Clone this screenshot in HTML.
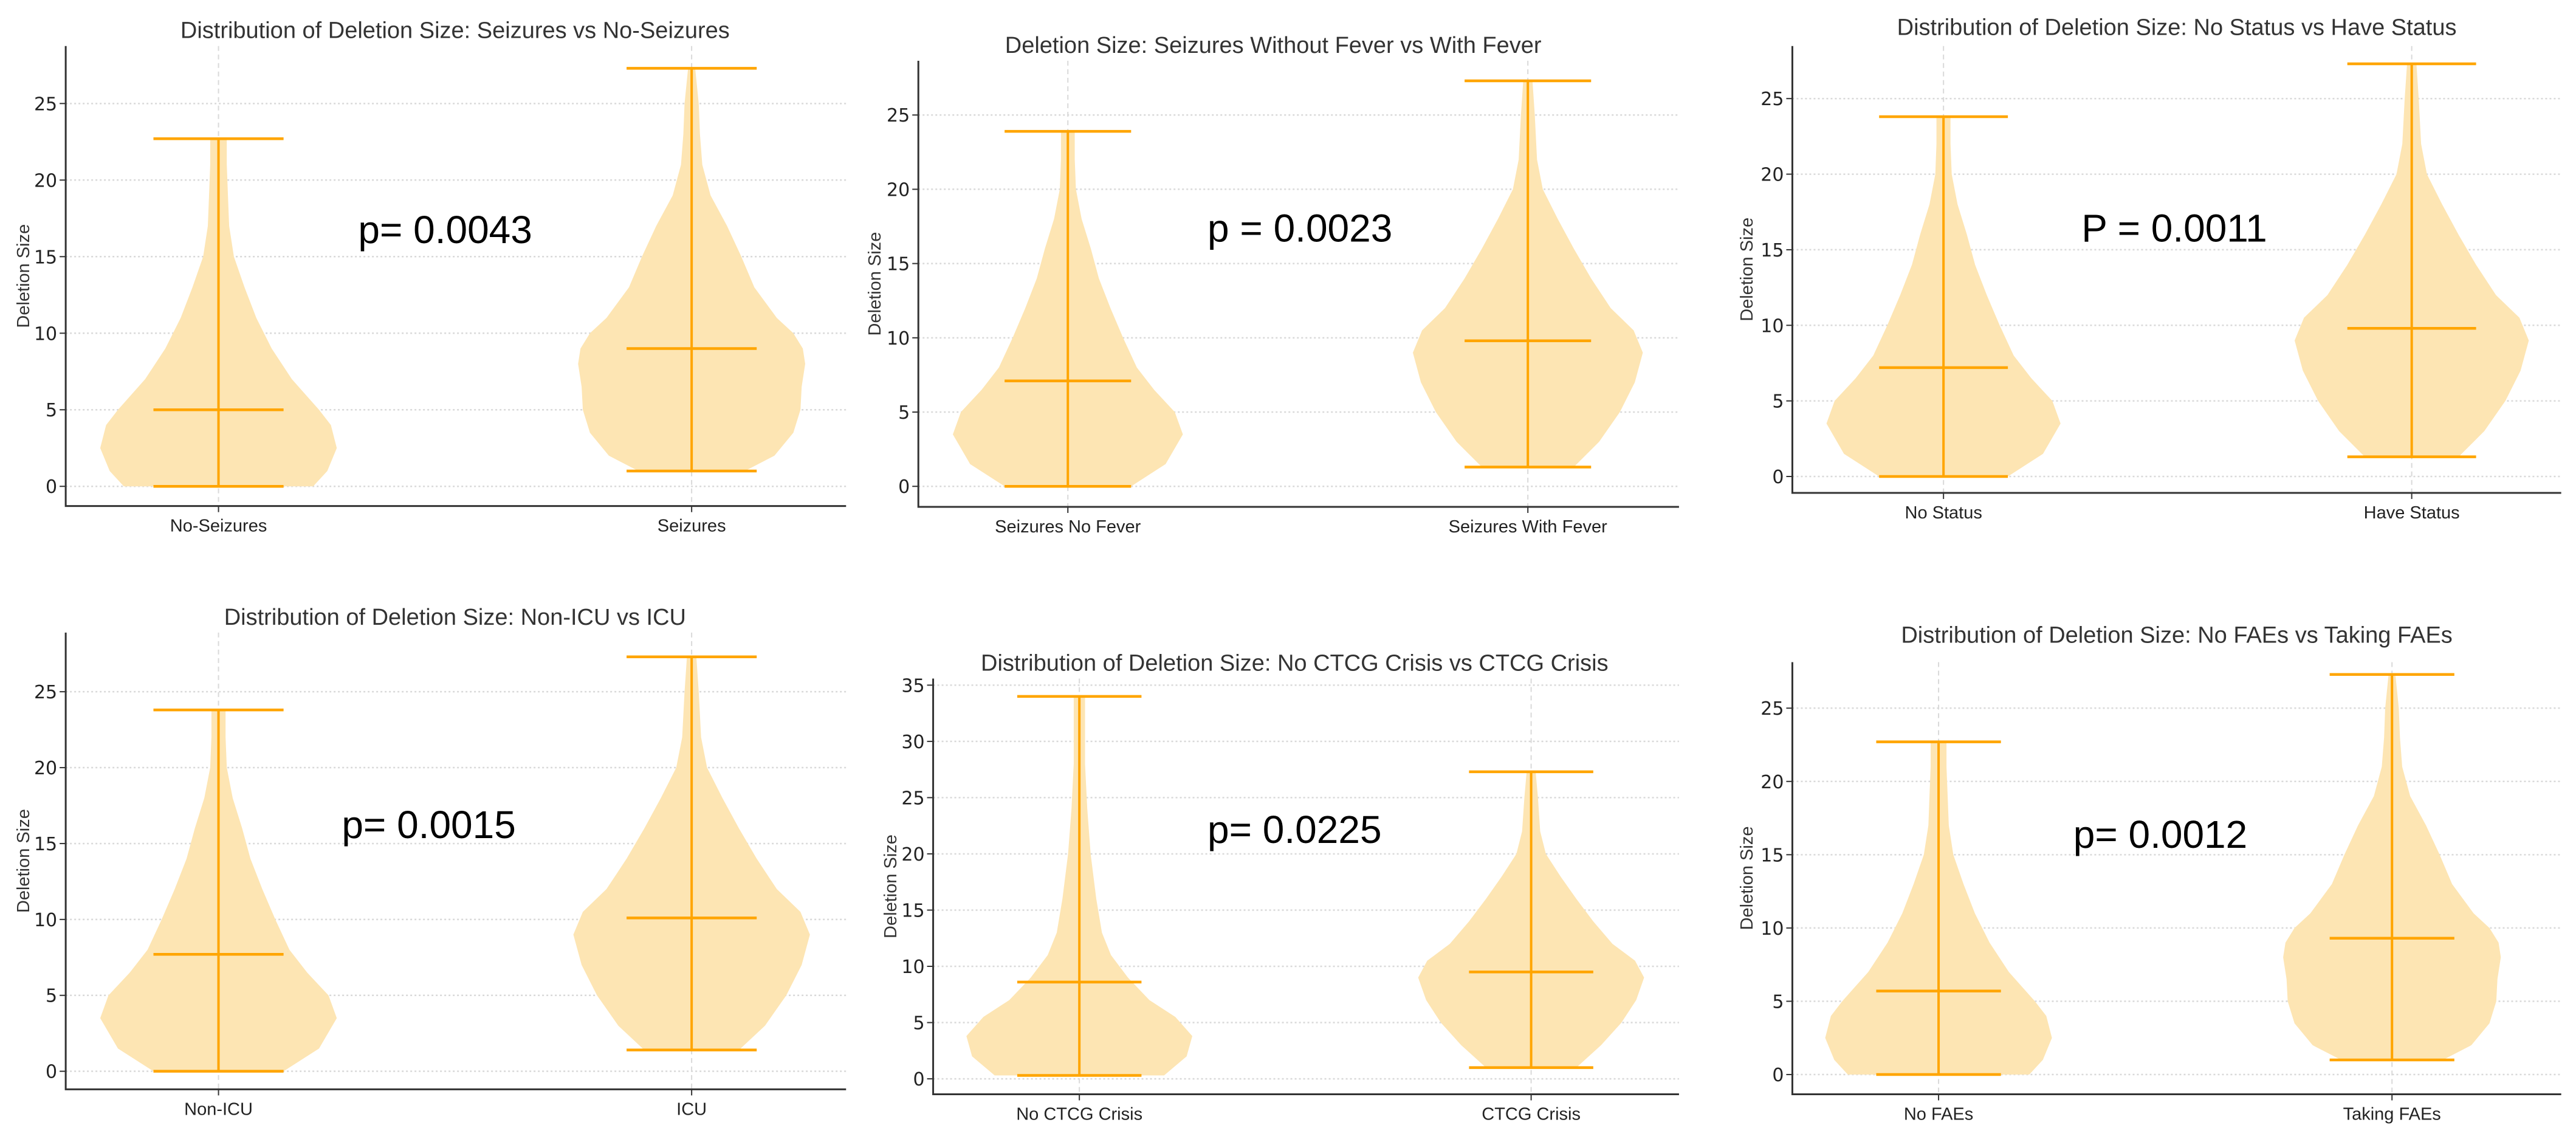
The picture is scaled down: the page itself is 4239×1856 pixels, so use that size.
<!DOCTYPE html>
<html><head><meta charset="utf-8">
<style>
html,body{margin:0;padding:0;background:#fff;}
svg{display:block;}
text{font-family:"Liberation Sans Narrow","Liberation Sans",sans-serif;}
text.ytick{font-family:"DejaVu Sans","Liberation Sans",sans-serif;}
</style></head>
<body>
<svg id="chart" width="4239" height="1856" viewBox="0 0 4239 1856" xmlns="http://www.w3.org/2000/svg"></svg>
<script>
// ---- data ----
const titles = [
  "Distribution of Deletion Size: Seizures vs No-Seizures",
  "Deletion Size: Seizures Without Fever vs With Fever",
  "Distribution of Deletion Size: No Status vs Have Status",
  "Distribution of Deletion Size: Non-ICU vs ICU",
  "Distribution of Deletion Size: No CTCG Crisis vs CTCG Crisis",
  "Distribution of Deletion Size: No FAEs vs Taking FAEs"
];
const categories = [
  ["No-Seizures","Seizures"],
  ["Seizures No Fever","Seizures With Fever"],
  ["No Status","Have Status"],
  ["Non-ICU","ICU"],
  ["No CTCG Crisis","CTCG Crisis"],
  ["No FAEs","Taking FAEs"]
];
const pValues = ["p= 0.0043","p = 0.0023","P = 0.0011","p= 0.0015","p= 0.0225","p= 0.0012"];
const yTicks = [
  [0,5,10,15,20,25],[0,5,10,15,20,25],[0,5,10,15,20,25],
  [0,5,10,15,20,25],[0,5,10,15,20,25,30,35],[0,5,10,15,20,25]
];
const minValues = [[0,1],[0,1.3],[0,1.3],[0,1.4],[0.3,1],[0,1]];
const maxValues = [[22.7,27.3],[23.9,27.3],[23.8,27.3],[23.8,27.3],[34,27.3],[22.7,27.3]];
const medianValues = [[5,9],[7.1,9.8],[7.2,9.8],[7.7,10.1],[8.6,9.5],[5.7,9.3]];
// density profiles: [value, relative half-width]
const lowProfile = [[0,0.8],[1,0.92],[2.5,1.0],[4,0.95],[5,0.85],[7,0.62],[9,0.45],[11,0.32],[13,0.22],[15,0.13],[17,0.09],[19,0.08],[21,0.07],[22.7,0.07]];
const lowProfileB = [[0,0.55],[1.5,0.85],[3.5,1.0],[5,0.93],[6.5,0.75],[8,0.6],[10,0.48],[12,0.37],[14,0.27],[16,0.2],[18,0.12],[20,0.07],[22,0.06],[23.9,0.06]];
const lowProfileCTCG = [[0.3,0.75],[2,0.95],[3.8,1.0],[5.5,0.85],[7,0.62],[9,0.43],[11,0.28],[13,0.2],[16,0.15],[20,0.1],[24,0.07],[28,0.05],[31,0.05],[34,0.05]];
const highProfile = [[1,0.45],[2,0.7],[3.5,0.86],[5,0.92],[6.5,0.93],[8,0.96],[9,0.94],[10,0.86],[11,0.72],[13,0.53],[15,0.42],[17,0.3],[19,0.16],[21,0.09],[23,0.07],[25,0.06],[27.3,0.03]];
const highProfileB = [[1.3,0.4],[3,0.62],[5,0.8],[7,0.93],[9,1.0],[10.5,0.92],[12,0.72],[14,0.55],[16,0.4],[18,0.26],[20,0.13],[22,0.08],[25,0.06],[27.3,0.04]];
const profiles = [
  [lowProfile, highProfile],
  [lowProfileB, highProfileB],
  [lowProfileB, highProfileB],
  [lowProfileB, highProfileB],
  [lowProfileCTCG, highProfileB],
  [lowProfile, highProfile]
];

// ---- layout (thumbnail units * S, except yl in real px) ----
const S = 4239/1568;
const layouts = [
  {l:40,r:515,b:308,t:28,y0:296,yk:25,yky:63,c:[133,421],ty:18,tc:277,px:218,py:148,yl:38},
  {l:559,r:1022,b:308.5,t:37,y0:296,yk:25,yky:70,c:[650,930],ty:27,tc:775,px:735,py:147,yl:1439},
  {l:1091,r:1559,b:300,t:28,y0:290,yk:25,yky:60,c:[1183,1468],ty:16,tc:1325,px:1267,py:147,yl:2874},
  {l:40,r:515,b:663,t:385,y0:652,yk:25,yky:421,c:[133,421],ty:375,tc:277,px:208,py:510,yl:38},
  {l:568,r:1022,b:666,t:413,y0:656.6,yk:35,yky:417,c:[657,932],ty:403,tc:788,px:735,py:513,yl:1465},
  {l:1091,r:1559,b:666,t:403,y0:654,yk:25,yky:431,c:[1180,1456],ty:386,tc:1325,px:1262,py:516,yl:2874}
];
const NS = "http://www.w3.org/2000/svg";
const svg = document.getElementById('chart');
function mk(tag, attrs, parent){
  const e = document.createElementNS(NS, tag);
  for (const k in attrs) e.setAttribute(k, attrs[k]);
  (parent||svg).appendChild(e);
  return e;
}
const ORANGE = "#FFA500";

layouts.forEach((L, i) => {
  const g = mk('g', {});
  
  
  const left=L.l*S, right=L.r*S, bottom=L.b*S, top=L.t*S;
  const pxPerUnit = (L.y0 - L.yky)*S / L.yk;
  const yScale = v => L.y0*S - v*pxPerUnit;
  const xScale = k => L.c[k]*S;
  const halfMax = (L.c[1]-L.c[0])*S*0.25;

  // grid
  yTicks[i].forEach(t => {
    const gl = mk('line', {x1:left, x2:right, y1:yScale(t), y2:yScale(t), stroke:'#d9d9d9', 'stroke-width':2.5, 'stroke-dasharray':'3 4'}, g);
    
    
    const tk = mk('line', {x1:left-10, x2:left, y1:yScale(t), y2:yScale(t), stroke:'#333', 'stroke-width':2}, g);
    
    
    const tl = mk('text', {x:left-14, y:yScale(t)+11, 'text-anchor':'end', 'font-size':30, fill:'#222', 'class':'ytick'}, g);
    
    
    tl.textContent = t;
  });
  [0,1].forEach(k => {
    const vg = mk('line', {x1:xScale(k), x2:xScale(k), y1:top, y2:bottom, stroke:'#d9d9d9', 'stroke-width':2, 'stroke-dasharray':'8 6'}, g);
    
    
  });

  // violins
  [0,1].forEach(k => {
    const prof = profiles[i][k];
    const lo = minValues[i][k], hi = maxValues[i][k];
    const pts = prof.map(p => [Math.min(Math.max(p[0],lo),hi), p[1]]);
    pts[0][0] = lo; pts[pts.length-1][0] = hi;
    const cx = xScale(k);
    let d = '';
    pts.forEach((p, j) => { d += (j ? 'L' : 'M') + (cx + p[1]*halfMax).toFixed(1) + ' ' + yScale(p[0]).toFixed(1) + ' '; });
    for (let j = pts.length-1; j >= 0; j--) { d += 'L' + (cx - pts[j][1]*halfMax).toFixed(1) + ' ' + yScale(pts[j][0]).toFixed(1) + ' '; }
    d += 'Z';
    const body = mk('path', {d:d, fill:'#FDE5B3', stroke:'none'}, g);
    
    
    const cw = halfMax*0.5*1.1;
    const vl = mk('line', {x1:cx, x2:cx, y1:yScale(lo), y2:yScale(hi), stroke:ORANGE, 'stroke-width':4}, g);
    
    
    [[lo,'violin-min-cap'],[hi,'violin-max-cap'],[medianValues[i][k],'violin-median-line']].forEach(pair => {
      const c = mk('line', {x1:cx-cw, x2:cx+cw, y1:yScale(pair[0]), y2:yScale(pair[0]), stroke:ORANGE, 'stroke-width':4.5}, g);
      
      
    });
    const tk = mk('line', {x1:cx, x2:cx, y1:bottom, y2:bottom+10, stroke:'#333', 'stroke-width':2}, g);
    
    
    const xl = mk('text', {x:cx, y:bottom+42, 'text-anchor':'middle', 'font-size':29, fill:'#222'}, g);
    
    
    xl.textContent = categories[i][k];
  });

  // spines
  const sp = mk('path', {d:`M${left} ${top} L${left} ${bottom} L${right} ${bottom}`, fill:'none', stroke:'#333', 'stroke-width':3}, g);
  
  

  // title
  const t = mk('text', {x:L.tc*S, y:L.ty*S+14, 'text-anchor':'middle', 'font-size':38, fill:'#333'}, g);
  
  
  t.textContent = titles[i];

  // y label
  const yl = mk('text', {x:0, y:0, 'text-anchor':'middle', 'font-size':29, fill:'#333', transform:`translate(${L.yl+10},${(top+bottom)/2}) rotate(-90)`}, g);
  
  
  yl.textContent = 'Deletion Size';

  // p-value
  const p = mk('text', {x:L.px*S, y:L.py*S, 'font-size':64, fill:'#000'}, g);
  
  
  p.textContent = pValues[i];
});
</script>
</body></html>
